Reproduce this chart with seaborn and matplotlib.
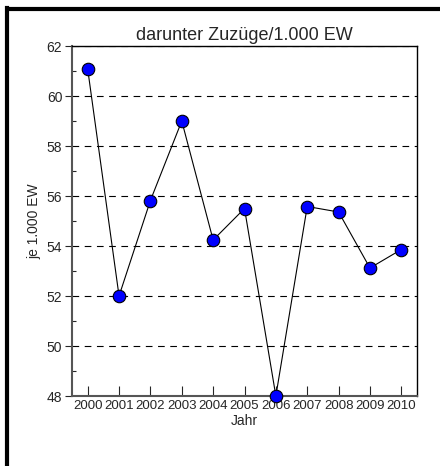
import pandas as pd
import seaborn as sns
import matplotlib.pyplot as plt
from matplotlib.lines import Line2D
from matplotlib.ticker import MultipleLocator

years = [2000, 2001, 2002, 2003, 2004, 2005, 2006, 2007, 2008, 2009, 2010]
values = [61.08, 52.0, 55.82, 59.0, 54.24, 55.5, 48.0, 55.58, 55.36, 53.12, 53.86]

sns.set_style("white")
plt.rcParams['font.family'] = ['Liberation Sans', 'DejaVu Sans']

df = pd.DataFrame({'Jahr': years, 'Wert': values})

fig = plt.figure(figsize=(4.4, 4.66), dpi=100)
ax = fig.add_axes([72 / 440, 1 - 396 / 466, 345 / 440, 350 / 466])

sns.lineplot(data=df, x='Jahr', y='Wert', ax=ax, color='black', linewidth=0.8,
             marker='o', markersize=9, markerfacecolor='#0000ff',
             markeredgecolor='black', markeredgewidth=0.8, zorder=3, clip_on=False)

ax.set_xlim(1999.5, 2010.5)
ax.set_ylim(48, 62)
ax.set_xticks(years)
ax.set_xticklabels([str(y) for y in years], fontsize=9.5)
ax.yaxis.set_major_locator(MultipleLocator(2))
ax.yaxis.set_minor_locator(MultipleLocator(1))
for lab in ax.get_yticklabels():
    lab.set_fontsize(10)

ax.grid(axis='y', which='major', linestyle=(0, (6, 5)), color='black', linewidth=0.8)
ax.set_axisbelow(True)

ax.tick_params(axis='y', which='major', direction='out', length=5, width=0.8, left=True, pad=2)
ax.tick_params(axis='y', which='minor', direction='in', length=3, width=0.8, left=True)
ax.tick_params(axis='x', which='major', direction='in', length=7, width=0.8, bottom=True, pad=3)

for side in ['left', 'bottom']:
    ax.spines[side].set_color('#555555')
    ax.spines[side].set_linewidth(1.5)
for side in ['top', 'right']:
    ax.spines[side].set_color('black')
    ax.spines[side].set_linewidth(1.0)

ax.set_title('darunter Zuzüge/1.000 EW', fontsize=13, pad=4)
ax.set_xlabel('Jahr', fontsize=10, labelpad=1)
ax.set_ylabel('je 1.000 EW', fontsize=10, labelpad=4)

# frame: only top and left edges are visible in the reference
fig.add_artist(Line2D([6.5 / 440, 6.5 / 440], [0, 1 - 7.5 / 466], transform=fig.transFigure,
                      color='black', linewidth=3, solid_capstyle='projecting'))
fig.add_artist(Line2D([6.5 / 440, 1], [1 - 9 / 466, 1 - 9 / 466], transform=fig.transFigure,
                      color='black', linewidth=3, solid_capstyle='butt'))

fig.savefig('out.png', dpi=100)
